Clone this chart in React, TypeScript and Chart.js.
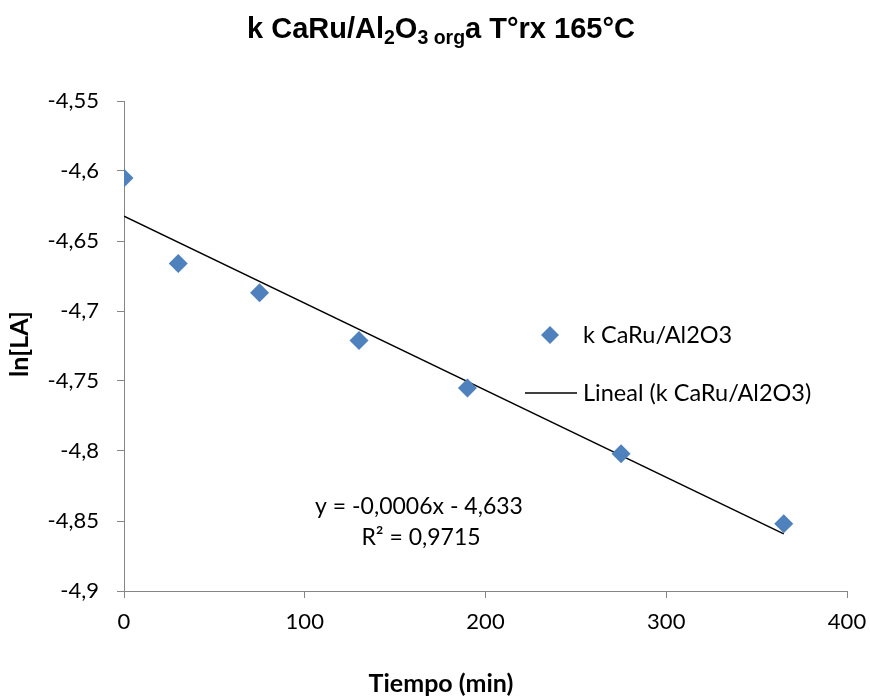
import React, { useEffect, useRef } from "react";
import { Chart, registerables } from "chart.js";

Chart.register(...registerables);

const tiempo = [0, 30, 75, 130, 190, 275, 365];
const lnLA = [-4.605, -4.666, -4.687, -4.721, -4.755, -4.802, -4.852];
const seriesName = "k CaRu/Al2O3";
const trendName = "Lineal (k CaRu/Al2O3)";
const equationText = "y = -0,0006x - 4,633";
const r2Text = "R² = 0,9715";
const xTitle = "Tiempo (min)";
const yTitle = "ln[LA]";

function fitLine(xs: number[], ys: number[]) {
  const n = xs.length;
  const mx = xs.reduce((a, b) => a + b, 0) / n;
  const my = ys.reduce((a, b) => a + b, 0) / n;
  let sxy = 0, sxx = 0;
  for (let i = 0; i < n; i++) {
    sxy += (xs[i] - mx) * (ys[i] - my);
    sxx += (xs[i] - mx) * (xs[i] - mx);
  }
  const m = sxy / sxx;
  return { m, b: my - m * mx };
}

const fmt = (v: number) => String(Number(v.toFixed(2))).replace(".", ",");

export default function App() {
  const ref = useRef<HTMLCanvasElement>(null);
  useEffect(() => {
    document.body.style.margin = "0";
    const { m, b } = fitLine(tiempo, lnLA);
    const x0 = tiempo[0];
    const x1 = tiempo[tiempo.length - 1];
    const trend = [
      { x: x0, y: m * x0 + b },
      { x: x1, y: m * x1 + b },
    ];
    const labelFont = "Lato, 'Open Sans', sans-serif";
    const overlay = {
      id: "overlay",
      afterDraw(chart: any) {
        const ctx = chart.ctx;
        ctx.save();
        ctx.fillStyle = "#000";
        // Title with subscripts
        const big = "bold 29px 'Liberation Sans', Arial, sans-serif";
        const small = "bold 19.5px 'Liberation Sans', Arial, sans-serif";
        const parts: [string, boolean][] = [
          ["k CaRu/Al", false],
          ["2", true],
          ["O", false],
          ["3 org", true],
          ["a T°rx 165°C", false],
        ];
        let total = 0;
        for (const [t, s] of parts) {
          ctx.font = s ? small : big;
          total += ctx.measureText(t).width;
        }
        let cx = 441 - total / 2;
        const base = 38;
        ctx.textBaseline = "alphabetic";
        ctx.textAlign = "left";
        for (const [t, s] of parts) {
          ctx.font = s ? small : big;
          ctx.fillText(t, cx, s ? base + 6 : base);
          cx += ctx.measureText(t).width;
        }
        // Axis titles
        ctx.font = `bold 25px ${labelFont}`;
        ctx.textAlign = "center";
        ctx.textBaseline = "middle";
        ctx.fillText(xTitle, 441, 684);
        ctx.save();
        ctx.translate(20, 344);
        ctx.rotate(-Math.PI / 2);
        ctx.fillText(yTitle, 0, 0);
        ctx.restore();
        // Legend
        ctx.font = `23.5px ${labelFont}`;
        ctx.textAlign = "left";
        ctx.textBaseline = "middle";
        const lx = 550, ly = 335;
        ctx.fillStyle = "#4F81BD";
        ctx.beginPath();
        ctx.moveTo(lx, ly - 9);
        ctx.lineTo(lx + 9, ly);
        ctx.lineTo(lx, ly + 9);
        ctx.lineTo(lx - 9, ly);
        ctx.closePath();
        ctx.fill();
        ctx.fillStyle = "#000";
        ctx.fillText(seriesName, 583, ly);
        ctx.strokeStyle = "#000";
        ctx.lineWidth = 1.5;
        ctx.beginPath();
        ctx.moveTo(525, 393);
        ctx.lineTo(577, 393);
        ctx.stroke();
        ctx.fillText(trendName, 583, 393);
        // Equation
        ctx.font = `23px ${labelFont}`;
        ctx.textAlign = "center";
        ctx.fillText(equationText, 419, 507);
        ctx.fillText(r2Text, 421, 538);
        ctx.restore();
      },
    };
    const chart = new Chart(ref.current!, {
      type: "scatter",
      data: {
        datasets: [
          {
            label: trendName,
            data: trend,
            showLine: true,
            borderColor: "#000",
            borderWidth: 1.5,
            pointRadius: 0,
            order: 2,
          } as any,
          {
            label: seriesName,
            data: tiempo.map((t, i) => ({ x: t, y: lnLA[i] })),
            pointStyle: "rectRot",
            pointRadius: 9.5,
            backgroundColor: "#4F81BD",
            borderColor: "#4F81BD",
            borderWidth: 0,
            order: 1,
          } as any,
        ],
      },
      options: {
        animation: false,
        responsive: false,
        devicePixelRatio: 1,
        layout: { padding: { top: 101, right: 23, left: 0, bottom: 0 } },
        plugins: {
          legend: { display: false },
          title: { display: false },
          tooltip: { enabled: false },
        },
        scales: {
          x: {
            type: "linear",
            min: 0,
            max: 400,
            ticks: {
              stepSize: 100,
              color: "#000",
              font: { family: labelFont, size: 22 },
              padding: 11,
            },
            grid: {
              drawOnChartArea: false,
              drawTicks: true,
              tickLength: 7,
              color: "#868686",
            },
            border: { color: "#868686", width: 1 },
            afterFit: (s: any) => {
              s.height = 109;
              s.paddingLeft = 0;
              s.paddingRight = 0;
            },
          },
          y: {
            type: "linear",
            min: -4.9,
            max: -4.55,
            ticks: {
              stepSize: 0.05,
              color: "#000",
              font: { family: labelFont, size: 22 },
              padding: 18,
              callback: (v: any) => fmt(Number(v)),
            },
            grid: {
              drawOnChartArea: false,
              drawTicks: true,
              tickLength: 7,
              color: "#868686",
            },
            border: { color: "#868686", width: 1 },
            afterFit: (s: any) => {
              s.width = 124;
              s.paddingTop = 0;
              s.paddingBottom = 0;
            },
          },
        },
      },
      plugins: [overlay],
    });
    return () => chart.destroy();
  }, []);
  return (
    <div style={{ width: 870, height: 700, background: "#fff" }}>
      <canvas ref={ref} width={870} height={700} />
    </div>
  );
}
